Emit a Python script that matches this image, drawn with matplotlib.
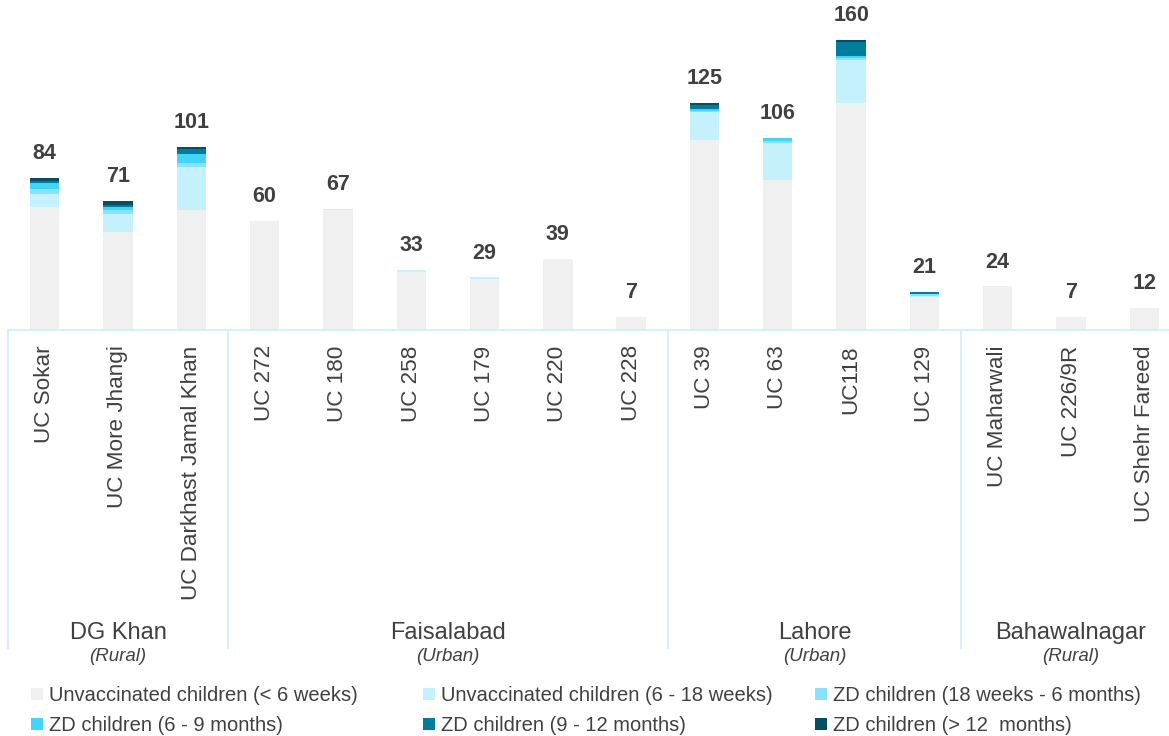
import matplotlib.pyplot as plt
from matplotlib.patches import Patch
from matplotlib.transforms import blended_transform_factory

plt.rcParams['font.family'] = ['Liberation Sans', 'DejaVu Sans']

# union councils, left to right
ucs = ["UC Sokar", "UC More Jhangi", "UC Darkhast Jamal Khan",
       "UC 272", "UC 180", "UC 258", "UC 179", "UC 220", "UC 228",
       "UC 39", "UC 63", "UC118", "UC 129",
       "UC Maharwali", "UC 226/9R", "UC Shehr Fareed"]

districts = ["DG Khan", "Faisalabad", "Lahore", "Bahawalnagar"]
district_type = ["(Rural)", "(Urban)", "(Urban)", "(Rural)"]
district_size = [3, 6, 4, 3]

series_names = ["Unvaccinated children (< 6 weeks)",
                "Unvaccinated children (6 - 18 weeks)",
                "ZD children (18 weeks - 6 months)",
                "ZD children (6 - 9 months)",
                "ZD children (9 - 12 months)",
                "ZD children (> 12  months)"]

unvacc_lt6w = [68, 54, 66, 60, 66, 32, 28, 39, 7, 105, 83, 125, 18, 24, 7, 12]
unvacc_6_18w = [7, 10, 24, 0, 1, 1, 1, 0, 0, 15, 20, 24, 1, 0, 0, 0]
zd_18w_6m = [3, 2, 2, 0, 0, 0, 0, 0, 0, 1, 1, 1, 1, 0, 0, 0]
zd_6_9m = [3, 2, 5, 0, 0, 0, 0, 0, 0, 1, 2, 1, 0, 0, 0, 0]
zd_9_12m = [1, 1, 3, 0, 0, 0, 0, 0, 0, 2, 0, 8, 1, 0, 0, 0]
zd_gt12m = [2, 2, 1, 0, 0, 0, 0, 0, 0, 1, 0, 1, 0, 0, 0, 0]

series = [unvacc_lt6w, unvacc_6_18w, zd_18w_6m, zd_6_9m, zd_9_12m, zd_gt12m]
colors = ["#f0f0f0", "#c4f1fc", "#8ae2f9", "#46d3f8", "#007d9c", "#044f66"]
line_col = "#d2f1fa"
text_col = "#404040"

fig = plt.figure(figsize=(11.69, 7.36), dpi=100)
ax = fig.add_axes([8 / 1169, 1 - 330 / 736, 1173 / 1169, 330 / 736])

x = list(range(len(ucs)))
bottom = [0] * len(ucs)
for vals, col in zip(series, colors):
    ax.bar(x, vals, 0.4, bottom=bottom, color=col, linewidth=0)
    bottom = [b + v for b, v in zip(bottom, vals)]

for i, tot in enumerate(bottom):
    ax.annotate(str(tot), (i, tot), xytext=(0, 10), textcoords="offset points",
                ha="center", va="bottom", fontsize=15.5, fontweight="bold",
                color=text_col)

ax.set_xlim(-0.5, len(ucs) - 0.5)
ax.set_ylim(0, 182)
for s in ax.spines.values():
    s.set_visible(False)
ax.set_yticks([])
ax.set_xticks(x)
ax.set_xticklabels(ucs, rotation=90, va="top", fontsize=16.2, color=text_col)
ax.tick_params(axis="x", length=0, pad=11)

# category boxes below the bars
tr = blended_transform_factory(ax.transData, ax.transAxes)
ax.plot([-0.5, len(ucs) - 0.5], [0, 0], color=line_col, lw=1.5,
        transform=tr, clip_on=False)
start = -0.5
for name, kind, n in zip(districts, district_type, district_size):
    ax.plot([start, start], [0, -0.965], color=line_col, lw=1.5,
            transform=tr, clip_on=False)
    mid = start + n / 2
    ax.text(mid, -0.918, name, transform=tr, ha="center", va="center",
            fontsize=17, color=text_col)
    ax.text(mid, -0.988, kind, transform=tr, ha="center", va="center",
            fontsize=13.5, style="italic", color=text_col)
    start += n

# legend, three columns of two rows
handles = [Patch(facecolor=c, edgecolor="none") for c in colors]
col_x = [31 / 1169, 423 / 1169, 815 / 1169]
for k in range(3):
    idx = [k, k + 3]
    fig.legend([handles[j] for j in idx], [series_names[j] for j in idx],
               loc="upper left", bbox_to_anchor=(col_x[k], 1 - 686 / 736),
               frameon=False, fontsize=14.5, handlelength=0.6,
               handleheight=0.6, handletextpad=0.3, labelspacing=0.55,
               labelcolor=text_col, borderaxespad=0, borderpad=0)

fig.savefig("out.png", dpi=100)
